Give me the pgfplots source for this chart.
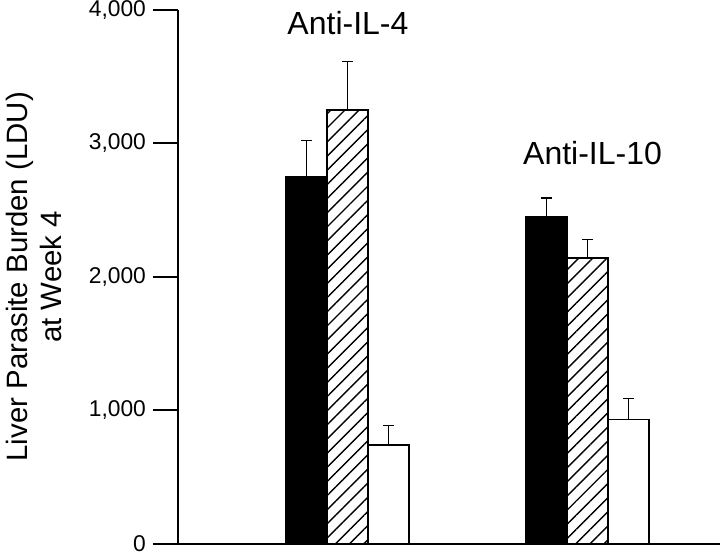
\documentclass[border=0pt]{standalone}
\usepackage{fontspec}
\setmainfont{Liberation Sans}
\usepackage{pgfplots}
\pgfplotsset{compat=1.18}
\usetikzlibrary{patterns.meta}
\begin{document}
\begin{tikzpicture}
\path[use as bounding box] (-89pt,-5.25pt) rectangle (271pt,271.75pt);
\begin{axis}[
  at={(0,0)}, anchor=origin,
  scale only axis, width=271pt, height=266.75pt,
  xmin=0.294, xmax=2.552, ymin=0, ymax=4000,
  axis x line=bottom, axis y line=left,
  axis line style={-, line width=1pt},
  xtick=\empty,
  ytick={0,1000,2000,3000,4000},
  tick align=outside, major tick length=12.5pt,
  tick style={line width=1pt, black},
  /pgf/number format/assume math mode=true,
  /pgf/number format/1000 sep={,},
  yticklabel style={font=\fontsize{11.4}{13}\selectfont, xshift=0pt},
  ylabel={Liver Parasite Burden (LDU)\\at Week 4},
  ylabel style={align=center, font=\fontsize{14.7}{17}\selectfont, at={(axis description cs:-0.2657,0.5)}, anchor=center, rotate=0},
  ybar, bar width=20.5pt,
  error bars/y dir=plus, error bars/y explicit,
  error bars/error bar style={line width=0.6pt, black},
  error bars/error mark options={rotate=90, mark size=2.6pt, line width=0.6pt, black},
  clip=false,
]
\addplot[bar shift=-20.5pt, fill=black, draw=black, line width=0.75pt]
  coordinates {(1,2750) +- (0,270) (2,2450) +- (0,140)};
\addplot[bar shift=0pt, draw=black, line width=0.75pt, fill=white,
  postaction={pattern={Lines[angle=45, distance=5pt, line width=0.7pt]}}]
  coordinates {(1,3250) +- (0,365) (2,2140) +- (0,140)};
\addplot[bar shift=20.5pt, fill=white, draw=black, line width=0.75pt]
  coordinates {(1,740) +- (0,145) (2,930) +- (0,160)};
\node[font=\fontsize{16}{19}\selectfont] at (axis cs:1.002,3900) {Anti-IL-4};
\node[font=\fontsize{16}{19}\selectfont] at (axis cs:2.021,2927) {Anti-IL-10};
\end{axis}
\end{tikzpicture}
\end{document}
